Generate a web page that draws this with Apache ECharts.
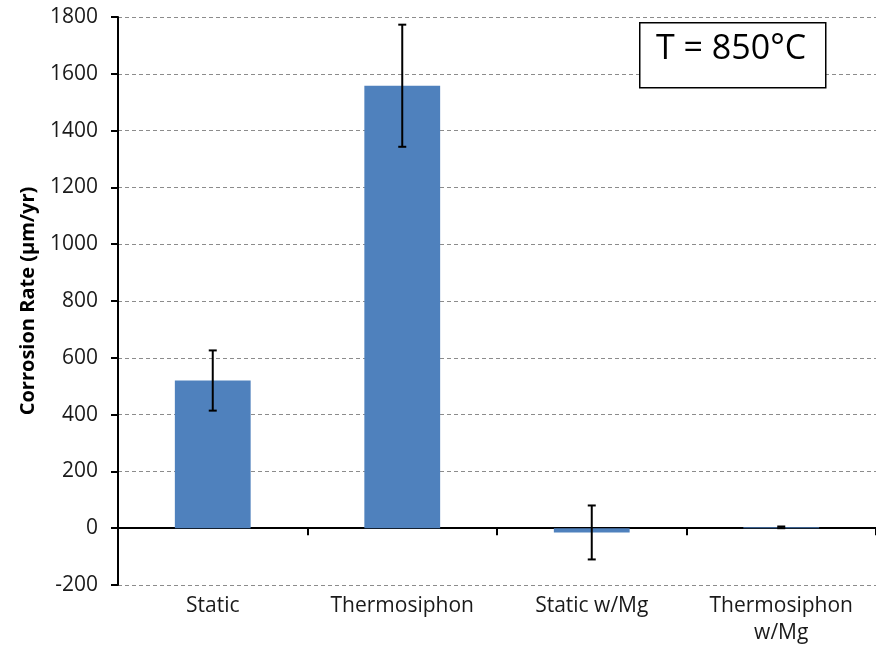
<!DOCTYPE html>
<html>
<head>
<meta charset="utf-8">
<script src="https://cdn.jsdelivr.net/npm/echarts@6/dist/echarts.min.js"></script>
<style>
  html, body { margin: 0; padding: 0; background: #fff; }
  #chart { width: 876px; height: 647px; }
</style>
</head>
<body>
<div id="chart"></div>
<script>
const categories = ['Static', 'Thermosiphon', 'Static w/Mg', 'Thermosiphon\nw/Mg']
const rates = [520, 1558, -15, 3]
const errors = [106, 215, 95, 3]
const yTicks = { min: -200, max: 1800, step: 200 }

const font = '"Open Sans", "Liberation Sans", sans-serif'

let errorData = rates.map((v, i) => [i, v - errors[i], v + errors[i]])

let chart = echarts.init(document.getElementById('chart'))

chart.setOption({
    animation: false,
    grid: { left: 118, top: 17, width: 765, height: 570, containLabel: false },
    xAxis: [
        {
            type: 'category',
            data: categories,
            axisLine: { onZero: true, lineStyle: { color: '#000', width: 2 } },
            axisTick: { show: true, length: 7, lineStyle: { color: '#000', width: 2 } },
            axisLabel: { show: false }
        },
        {
            type: 'category',
            data: categories,
            position: 'bottom',
            axisLine: { show: false, onZero: false },
            axisTick: { show: false },
            axisLabel: {
                margin: 8,
                color: '#1a1a1a',
                fontSize: 21,
                fontFamily: font,
                lineHeight: 27
            }
        }
    ],
    yAxis: {
        type: 'value',
        min: yTicks.min,
        max: yTicks.max,
        interval: yTicks.step,
        name: 'Corrosion Rate (\u03bcm/yr)',
        nameLocation: 'middle',
        nameGap: 80,
        nameTextStyle: { color: '#000', fontSize: 20, fontWeight: 'bold', fontFamily: font },
        axisLine: { show: true, lineStyle: { color: '#000', width: 2 } },
        axisTick: { show: true, length: 7, lineStyle: { color: '#000', width: 2 } },
        axisLabel: {
            margin: 20,
            color: '#1a1a1a',
            fontSize: 21,
            fontFamily: font,
            formatter: (v) => String(v)
        },
        splitLine: { lineStyle: { color: '#8c8c8c', type: [4, 3], width: 1 } }
    },
    series: [
        {
            type: 'bar',
            data: rates,
            barWidth: '40%',
            itemStyle: { color: '#4F81BD' },
            z: 2
        },
        {
            type: 'custom',
            data: errorData,
            z: 5,
            renderItem: (params, api) => {
                let x = api.value(0)
                let lo = api.coord([x, api.value(1)])
                let hi = api.coord([x, api.value(2)])
                let cap = 4
                let style = { stroke: '#000', lineWidth: 2 }
                return {
                    type: 'group',
                    children: [
                        { type: 'line', shape: { x1: lo[0], y1: lo[1], x2: hi[0], y2: hi[1] }, style: style },
                        { type: 'line', shape: { x1: lo[0] - cap, y1: lo[1], x2: lo[0] + cap, y2: lo[1] }, style: style },
                        { type: 'line', shape: { x1: hi[0] - cap, y1: hi[1], x2: hi[0] + cap, y2: hi[1] }, style: style }
                    ]
                }
            }
        }
    ],
    graphic: [
        {
            type: 'rect',
            left: 639,
            top: 22,
            shape: { width: 186, height: 65 },
            style: { fill: '#fff', stroke: '#000', lineWidth: 1.5 },
            z: 10
        },
        {
            type: 'text',
            left: 656,
            top: 32,
            style: { text: 'T = 850\u00b0C', fontSize: 34, fontFamily: font, fill: '#000' },
            z: 11
        }
    ]
})
</script>
</body>
</html>
